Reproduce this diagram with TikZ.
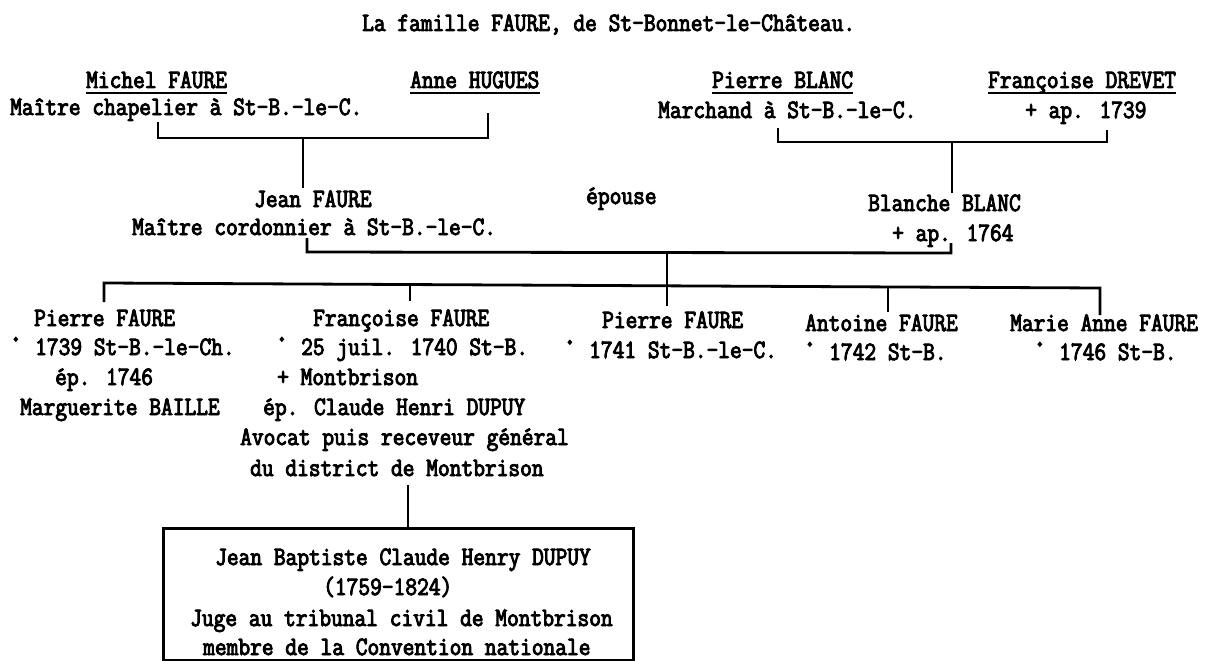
\documentclass[tikz,border=0pt]{standalone}
\usepackage{fontspec}
\newfontfamily\tw[FakeStretch=0.86,FakeBold=3.5]{Latin Modern Mono}
\newcommand\birthdot{\raisebox{0.52em}{\scalebox{1.3}{.}}}
\tikzset{
  t/.style={anchor=base west, inner sep=0pt, font=\tw\fontsize{26.5}{30}\selectfont},
  ln/.style={line width=2.8pt, line cap=butt, line join=miter},
  ul/.style={line width=2.4pt},
}
\begin{document}
\begin{tikzpicture}[x=1pt,y=-1pt]
\useasboundingbox[fill=white] (0,0) rectangle (1210,661);
% title
\node[t] (title) at (362,31) {La famille FAURE, de St-Bonnet-le-Château.};
% grandparents
\node[t] (michel) at (86,88) {Michel FAURE};
\node[t] (anne) at (410,88) {Anne HUGUES};
\node[t] (michelj) at (10,115) {Maître chapelier à St-B.-le-C.};
\node[t] (pierreb) at (712,88) {Pierre BLANC};
\node[t] (francd) at (988,88) {Françoise DREVET};
\node[t] (pierrebj) at (658,118) {Marchand à St-B.-le-C.};
\node[t] (francdd) at (1025,118) {+ ap. 1739};
\foreach \n in {michel,anne,pierreb,francd}
  \draw[ul] ([yshift=-5pt]\n.base west) -- ([yshift=-5pt]\n.base east);
% parents
\node[t] (jean) at (254,207) {Jean FAURE};
\node[t] (jeanj) at (132,235) {Maître cordonnier à St-B.-le-C.};
\node[t] (epouse) at (586,204) {épouse};
\node[t] (blanche) at (868,211) {Blanche BLANC};
\node[t] (blanched) at (892,241) {+ ap. 1764};
% children
\node[t] (c1) at (34,326) {Pierre FAURE};
\node[t] (c1b) at (8,355) {\birthdot{} 1739 St-B.-le-Ch.};
\node[t] (c1m) at (55,385) {ép. 1746};
\node[t] (c1s) at (20,415) {Marguerite BAILLE};
\node[t] (c2) at (313,326) {Françoise FAURE};
\node[t] (c2b) at (274,355) {\birthdot{} 25 juil. 1740 St-B.};
\node[t] (c2d) at (277,385) {+ Montbrison};
\node[t] (c2m) at (263,415) {ép. Claude Henri DUPUY};
\node[t] (c2s1) at (240,445) {Avocat puis receveur général};
\node[t] (c2s2) at (250,476) {du district de Montbrison};
\node[t] (c3) at (602,328) {Pierre FAURE};
\node[t] (c3b) at (562,358) {\birthdot{} 1741 St-B.-le-C.};
\node[t] (c4) at (805,331) {Antoine FAURE};
\node[t] (c4b) at (802,360) {\birthdot{} 1742 St-B.};
\node[t] (c5) at (1010,331) {Marie Anne FAURE};
\node[t] (c5b) at (1032,360) {\birthdot{} 1746 St-B.};
% grandson box
\node[draw, ln, anchor=north west, minimum width=470pt, minimum height=132pt, inner sep=0pt] (box) at (162,527) {};
\node[t] (g1) at (215,565) {Jean Baptiste Claude Henry DUPUY};
\node[t] (g2) at (323,595) {(1759-1824)};
\node[t] (g3) at (190,626) {Juge au tribunal civil de Montbrison};
\node[t] (g4) at (203,655) {membre de la Convention nationale};
% connector coordinates
\coordinate (f1a) at (158,122); \coordinate (f1b) at (158,138);
\coordinate (f1c) at (488,138); \coordinate (f1d) at (488,113);
\coordinate (f1m) at (303,138); \coordinate (f1e) at (303,188);
\coordinate (f2a) at (778,128); \coordinate (f2b) at (778,142);
\coordinate (f2c) at (1107,142); \coordinate (f2d) at (1107,130);
\coordinate (f2m) at (952,142); \coordinate (f2e) at (952,193);
\coordinate (m1) at (307,238); \coordinate (m2) at (307,252);
\coordinate (m3) at (951,253); \coordinate (m4) at (951,243);
\coordinate (mm) at (667,253); \coordinate (mc) at (667,306);
\coordinate (s1) at (104,302); \coordinate (s2) at (104,283);
\coordinate (s3) at (1100,288); \coordinate (s4) at (1100,315);
\coordinate (t2a) at (410,284); \coordinate (t2b) at (410,301);
\coordinate (t4a) at (888,287); \coordinate (t4b) at (888,312);
\coordinate (gb) at (408,485);
% connectors
\draw[ln] (f1a) -- (f1b) -- (f1c) -- (f1d);
\draw[ln] (f1m) -- (f1e);
\draw[ln] (f2a) -- (f2b) -- (f2c) -- (f2d);
\draw[ln] (f2m) -- (f2e);
\draw[ln] (m1) -- (m2) -- (m3) -- (m4);
\draw[ln] (mm) -- (mc);
\draw[ln] (s1) -- (s2) -- (s3) -- (s4);
\draw[ln] (t2a) -- (t2b);
\draw[ln] (t4a) -- (t4b);
\draw[ln] (gb) -- (gb |- box.north);
\end{tikzpicture}
\end{document}
